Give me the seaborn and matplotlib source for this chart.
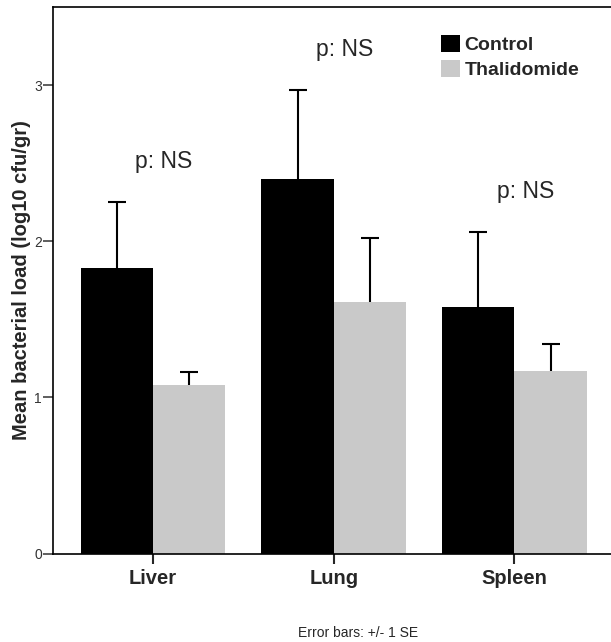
import numpy as np
import pandas as pd
import matplotlib.pyplot as plt
import seaborn as sns

# data
organs = ["Liver", "Lung", "Spleen"]
groups = ["Control", "Thalidomide"]
control_mean = [1.83, 2.40, 1.58]
control_se = [0.42, 0.57, 0.48]
thal_mean = [1.08, 1.61, 1.17]
thal_se = [0.08, 0.41, 0.17]
p_labels = ["p: NS", "p: NS", "p: NS"]

df = pd.DataFrame({
    "organ": organs * 2,
    "group": [groups[0]] * 3 + [groups[1]] * 3,
    "mean": control_mean + thal_mean,
})
se_by_group = {groups[0]: control_se, groups[1]: thal_se}

sns.set_style("white")
plt.rcParams['font.family'] = ['Liberation Sans', 'DejaVu Sans']

fig = plt.figure(figsize=(6.11, 6.42), dpi=100)
ax = fig.add_axes([53/611, 1 - 553.5/642, 1 - 53/611, (553.5 - 7)/642])

sns.barplot(data=df, x="organ", y="mean", hue="group", order=organs, hue_order=groups,
            palette=["black", "#c9c9c9"], saturation=1, errorbar=None, width=0.8,
            linewidth=0, ax=ax)

# one sided error bars (+1 SE), taken from the bar positions
for cont, g in zip(ax.containers, groups):
    xs = [p.get_x() + p.get_width()/2 for p in cont]
    ys = [p.get_height() for p in cont]
    se = se_by_group[g]
    eb = ax.errorbar(xs, ys, yerr=[np.zeros(len(se)), se], fmt='none', ecolor='black',
                     elinewidth=1.5, capsize=6.5, capthick=1.5, zorder=3)
    eb[1][0].set_visible(False)  # hide lower cap

# p value labels above the highest error bar of each organ
for i, lab in enumerate(p_labels):
    top = max(control_mean[i] + control_se[i], thal_mean[i] + thal_se[i])
    ax.text(i + 0.06, top + 0.26, lab, ha='center', va='center', fontsize=16.5)

ax.set_xlim(-0.553, 2.534)
ax.set_ylim(0, 3.5)
ax.set_yticks([0, 1, 2, 3])
ax.set_yticklabels(["0", "1", "2", "3"], fontsize=10, color="#333333")
ax.tick_params(axis='y', length=7, width=1.1, pad=1, left=True, color='#333333')
ax.tick_params(axis='x', length=7, width=1.5, pad=4, bottom=True, labelsize=14.5)
for t in ax.get_xticklabels():
    t.set_fontweight('bold')

ax.set_xlabel("")
ax.set_ylabel("Mean bacterial load (log10 cfu/gr)", fontsize=14.5, fontweight='bold')
ax.yaxis.set_label_coords(-0.04, 0.5)

for s in ["left", "top", "bottom"]:
    ax.spines[s].set_color("black")
    ax.spines[s].set_linewidth(1.2)
ax.spines["right"].set_visible(False)

handles, labels = ax.get_legend_handles_labels()
ax.legend(handles, labels, loc='upper left', bbox_to_anchor=(441/611, 1 - 35/642),
          bbox_transform=fig.transFigure, frameon=False, borderpad=0, borderaxespad=0,
          handlelength=1.0, handleheight=1.0, handletextpad=0.2, labelspacing=0.28,
          prop={'size': 14, 'weight': 'bold'})

fig.text(358/611, 1 - 633/642, "Error bars: +/- 1 SE", ha='center', va='center', fontsize=10)

fig.savefig("out.png", dpi=100)
